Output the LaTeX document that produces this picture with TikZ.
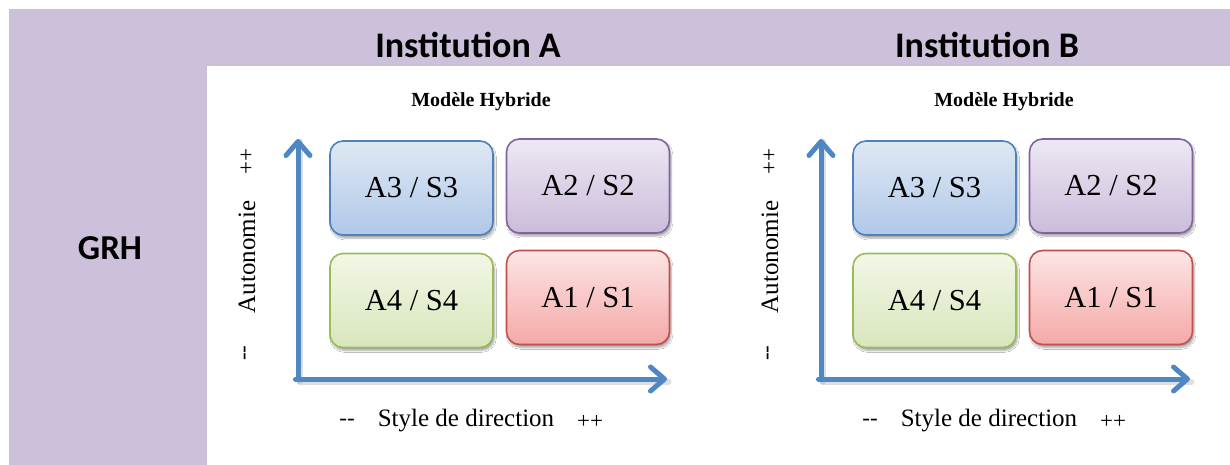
\documentclass[tikz,border=0pt]{standalone}
\usepackage{fontspec}
\setmainfont{Liberation Serif}
\newfontfamily\headfont{Carlito}
\usetikzlibrary{arrows.meta,shadows.blur}

\definecolor{bandpurple}{HTML}{CCC0DA}
\definecolor{axisblue}{RGB}{79,135,197}
\definecolor{blueTop}{HTML}{DFE8F4}\definecolor{blueBot}{HTML}{B0C8E8}\definecolor{blueLine}{HTML}{4F81BD}
\definecolor{violTop}{HTML}{EDE8F3}\definecolor{violBot}{HTML}{CBBCDB}\definecolor{violLine}{HTML}{8064A2}
\definecolor{greenTop}{HTML}{F2F7E6}\definecolor{greenBot}{HTML}{D8E6BC}\definecolor{greenLine}{HTML}{9BBB59}
\definecolor{redTop}{HTML}{FCE5E5}\definecolor{redBot}{HTML}{F4A9A7}\definecolor{redLine}{HTML}{C0504D}

\tikzset{
  quad/.style={rounded corners=13pt, line width=1.6pt, minimum width=163pt, minimum height=94pt,
    inner sep=0pt, font=\fontsize{30.5}{34}\selectfont,
    blur shadow={shadow xshift=1.5pt, shadow yshift=-3pt, shadow blur steps=6, shadow opacity=35}},
  qblue/.style={quad, draw=blueLine, top color=blueTop, bottom color=blueBot},
  qviol/.style={quad, draw=violLine, top color=violTop, bottom color=violBot},
  qgreen/.style={quad, draw=greenLine, top color=greenTop, bottom color=greenBot},
  qred/.style={quad, draw=redLine, top color=redTop, bottom color=redBot},
  axis/.style={draw=axisblue, line width=5pt, line cap=round,
    -{Straight Barb[length=14pt, width=24pt, line width=5pt, round]}},
  axisshade/.style={draw=black!35, opacity=0.35, line width=6pt, line cap=round},
  inst/.style={font=\headfont\bfseries\fontsize{36}{40}\selectfont},
  title/.style={font=\bfseries\fontsize{20}{24}\selectfont},
  lab/.style={font=\fontsize{25}{28}\selectfont, inner sep=0pt},
  sign/.style={font=\fontsize{23}{26}\selectfont, inner sep=0pt},
}

\begin{document}
\begin{tikzpicture}[x=1pt, y=-1pt]
  \useasboundingbox (0,0) rectangle (1230,465);
  \fill[white] (0,0) rectangle (1230,465);
  % purple header band and left column
  \fill[bandpurple] (9,9) rectangle (1230,66);
  \fill[bandpurple] (9,66) rectangle (207,465);

  \node[inst] (instA) at (468,45) {Institution A};
  \node[inst] (instB) at (987,45) {Institution B};
  \node[font=\headfont\bfseries\fontsize{35}{38}\selectfont] (grh) at (110,248) {GRH};

  \foreach \dx/\p in {0/a, 523/b} {
    \begin{scope}[xshift=\dx]
      \node[title] (\p title) at (481,102) {Modèle Hybride};
      % axes
      \coordinate (\p origin) at (298,379);
      \coordinate (\p top) at (298,139);
      \coordinate (\p right) at (667,379);
      \draw[axisshade] ([xshift=1.5pt,yshift=-2.5pt]\p origin) -- ([xshift=1.5pt,yshift=-2.5pt]\p top);
      \draw[axisshade] ([xshift=1.5pt,yshift=-2.5pt]\p origin) -- ([xshift=1.5pt,yshift=-2.5pt]\p right);
      \draw[axis] (\p origin) -- (\p top);
      \draw[axis] ([xshift=-2.5pt]\p origin) -- (\p right);
      % quadrants
      \node[qblue]  (\p q3) at (411.5,188) {A3 / S3};
      \node[qviol]  (\p q2) at (588,186) {A2 / S2};
      \node[qgreen] (\p q4) at (411.5,300.5) {A4 / S4};
      \node[qred]   (\p q1) at (588,297.5) {A1 / S1};
      % axis labels
      \node[lab, rotate=90] (\p auto) at (247,257) {Autonomie};
      \node[sign, rotate=90] (\p yplus) at (247,162) {++};
      \node[sign, rotate=90] (\p yminus) at (247,353) {-{}-};
      \node[lab] (\p style) at (466,421) {Style de direction};
      \node[sign] (\p xminus) at (347,422) {-{}-};
      \node[sign] (\p xplus) at (590,422) {++};
    \end{scope}
  }
\end{tikzpicture}
\end{document}
